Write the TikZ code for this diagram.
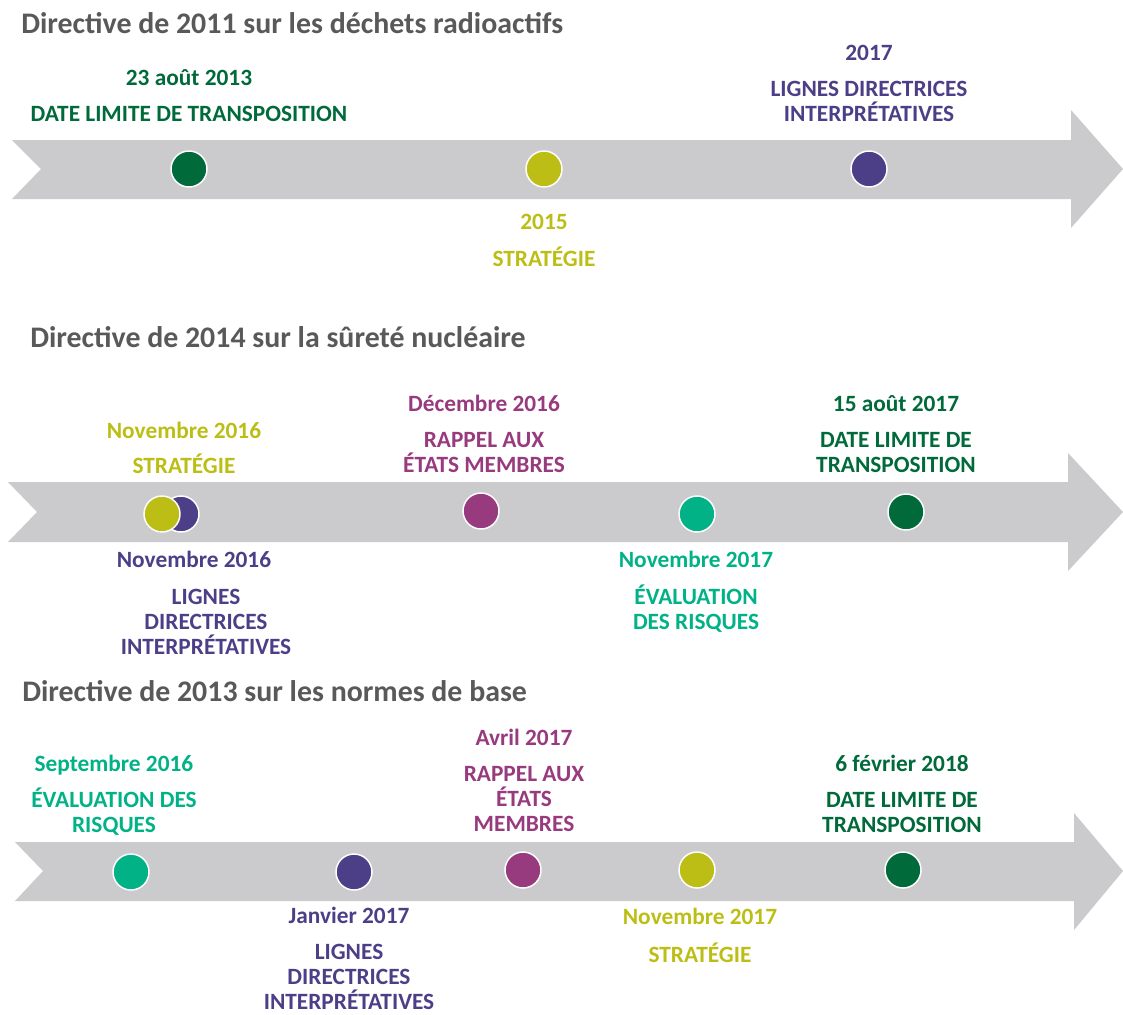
\documentclass[tikz,border=0pt]{standalone}
\usepackage{fontspec}
\setmainfont{Carlito}
\definecolor{band}{HTML}{CBCBCD}
\definecolor{dgreen}{HTML}{006A3A}
\definecolor{lime}{HTML}{BCBE16}
\definecolor{violet}{HTML}{4D3F87}
\definecolor{plum}{HTML}{973A7E}
\definecolor{teal}{HTML}{00B286}
\definecolor{titlegray}{HTML}{595959}
\begin{document}
\begin{tikzpicture}[x=0.75pt,y=-0.75pt,
  title/.style={anchor=base west,inner sep=0,font=\bfseries\fontsize{22.4}{24}\selectfont,text=titlegray},
  lbl/.style={anchor=base,inner sep=0,align=center,font=\bfseries\fontsize{17.5}{18.75}\selectfont},
  dot/.style={circle,inner sep=0,minimum size=27pt,draw=white,line width=1.1pt,fill=#1},
  bandshape/.style={fill=band,draw=none}]
\useasboundingbox (0,0) rectangle (1123,1014);
% arrows
\fill[bandshape] (12,140) -- (1071,140) -- (1071,110) -- (1123,169) -- (1071,228) -- (1071,199) -- (12,199) -- (41,169) -- cycle;
\fill[bandshape] (8,482) -- (1068,482) -- (1068,453) -- (1123,512) -- (1068,571) -- (1068,542) -- (8,542) -- (37,512) -- cycle;
\fill[bandshape] (15,842) -- (1074,842) -- (1074,813) -- (1123,871) -- (1074,930) -- (1074,901) -- (15,901) -- (43,871) -- cycle;
% titles
\node[title] (t1) at (21,33) {Directive de 2011 sur les déchets radioactifs};
\node[title] (t2) at (30,347) {Directive de 2014 sur la sûreté nucléaire};
\node[title] (t3) at (22,701) {Directive de 2013 sur les normes de base};
% row 1
\node[dot=dgreen] (a1) at (189,169) {};
\node[dot=lime] (a2) at (544,169) {};
\node[dot=violet] (a3) at (869,169) {};
\node[lbl,text=dgreen] (a1d) at (189,85.5) {23 août 2013};
\node[lbl,text=dgreen] (a1l) at (189,121.5) {DATE LIMITE DE TRANSPOSITION};
\node[lbl,text=lime] (a2d) at (544,229.5) {2015};
\node[lbl,text=lime] (a2l) at (544,266.5) {STRATÉGIE};
\node[lbl,text=violet] (a3d) at (869,60.5) {2017};
\node[lbl,text=violet] (a3l) at (869,121.5) {LIGNES DIRECTRICES\\INTERPRÉTATIVES};
% row 2
\node[dot=violet] (b2) at (181,514) {};
\node[dot=lime] (b1) at (162,514) {};
\node[dot=plum] (b3) at (481,511) {};
\node[dot=teal] (b4) at (697,514) {};
\node[dot=dgreen] (b5) at (906,512) {};
\node[lbl,text=lime] (b1d) at (184,438.5) {Novembre 2016};
\node[lbl,text=lime] (b1l) at (184,473.5) {STRATÉGIE};
\node[lbl,text=violet] (b2d) at (194,567.5) {Novembre 2016};
\node[lbl,text=violet] (b2l) at (206,654.5) {LIGNES\\DIRECTRICES\\INTERPRÉTATIVES};
\node[lbl,text=plum] (b3d) at (484,411.5) {Décembre 2016};
\node[lbl,text=plum] (b3l) at (484,472.5) {RAPPEL AUX\\ÉTATS MEMBRES};
\node[lbl,text=teal] (b4d) at (696,567.5) {Novembre 2017};
\node[lbl,text=teal] (b4l) at (696,629.5) {ÉVALUATION\\DES RISQUES};
\node[lbl,text=dgreen] (b5d) at (896,411.5) {15 août 2017};
\node[lbl,text=dgreen] (b5l) at (896,472.5) {DATE LIMITE DE\\TRANSPOSITION};
% row 3
\node[dot=teal] (c1) at (131,872) {};
\node[dot=violet] (c2) at (354,872) {};
\node[dot=plum] (c3) at (523,870) {};
\node[dot=lime] (c4) at (697,870) {};
\node[dot=dgreen] (c5) at (903,870) {};
\node[lbl,text=teal] (c1d) at (114,771.5) {Septembre 2016};
\node[lbl,text=teal] (c1l) at (114,832.5) {ÉVALUATION DES\\RISQUES};
\node[lbl,text=violet] (c2d) at (349,923.5) {Janvier 2017};
\node[lbl,text=violet] (c2l) at (349,1009) {LIGNES\\DIRECTRICES\\INTERPRÉTATIVES};
\node[lbl,text=plum] (c3d) at (524,745.5) {Avril 2017};
\node[lbl,text=plum] (c3l) at (524,831.5) {RAPPEL AUX\\ÉTATS\\MEMBRES};
\node[lbl,text=lime] (c4d) at (700,924.5) {Novembre 2017};
\node[lbl,text=lime] (c4l) at (700,962.5) {STRATÉGIE};
\node[lbl,text=dgreen] (c5d) at (902,771.5) {6 février 2018};
\node[lbl,text=dgreen] (c5l) at (902,832.5) {DATE LIMITE DE\\TRANSPOSITION};
\end{tikzpicture}
\end{document}
